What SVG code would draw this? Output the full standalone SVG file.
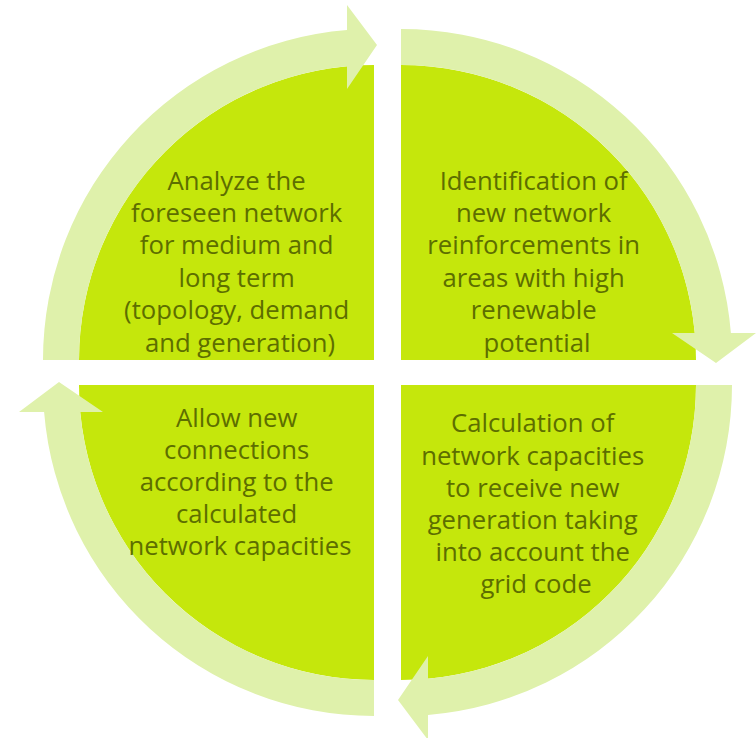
<svg xmlns="http://www.w3.org/2000/svg" width="756" height="738" viewBox="0 0 756 738">
  <style>
    .seg { fill: #c5e70c; }
    .arc { fill: #dff1ab; }
    .lbl { font-family: "Open Sans", "Noto Sans", "Liberation Sans", sans-serif; font-size: 25.7px; fill: #5d6e00; text-anchor: middle; }
  </style>
  <defs>
    <!-- quarter-turn circular arrow, drawn around its own corner at (0,0) -->
    <path id="turn" d="M -331 0 A 331 331 0 0 1 -27 -329.9 L -27 -355 L 3 -315 L -27 -271 L -27 -293.8 A 295 295 0 0 0 -295 0 Z"/>
  </defs>
  <rect width="756" height="738" fill="#ffffff"/>

  <!-- segments -->
  <g id="analyze">
    <path class="seg" d="M 374 360 L 79 360 A 295 295 0 0 1 374 65 Z"/>
    <text class="lbl" x="240">
      <tspan x="240" y="189.5">Analyze the</tspan>
      <tspan x="240" y="222">foreseen network</tspan>
      <tspan x="240" y="254">for medium and</tspan>
      <tspan x="240" y="286.5">long term</tspan>
      <tspan x="240" y="319">(topology, demand</tspan>
      <tspan x="240" y="351.5">and generation)</tspan>
    </text>
  </g>
  <g id="identify">
    <path class="seg" d="M 401 360 L 401 65 A 295 295 0 0 1 696 360 Z"/>
    <text class="lbl" x="537">
      <tspan x="537" y="189.5">Identification of</tspan>
      <tspan x="537" y="222">new network</tspan>
      <tspan x="537" y="254">reinforcements in</tspan>
      <tspan x="537" y="286.5">areas with high</tspan>
      <tspan x="537" y="319">renewable</tspan>
      <tspan x="537" y="351.5">potential</tspan>
    </text>
  </g>
  <g id="calculate">
    <path class="seg" d="M 401 385 L 696 385 A 295 295 0 0 1 401 680 Z"/>
    <text class="lbl" x="536">
      <tspan x="536" y="432.3">Calculation of</tspan>
      <tspan x="536" y="464.5">network capacities</tspan>
      <tspan x="536" y="496.7">to receive new</tspan>
      <tspan x="536" y="528.9">generation taking</tspan>
      <tspan x="536" y="561.1">into account the</tspan>
      <tspan x="536" y="593.3">grid code</tspan>
    </text>
  </g>
  <g id="allow">
    <path class="seg" d="M 374 385 L 374 680 A 295 295 0 0 1 79 385 Z"/>
  </g>

  <!-- connectors: circular arrows around the segments -->
  <g id="connectors">
    <use href="#turn" class="arc" transform="translate(374 360)"/>
    <use href="#turn" class="arc" transform="translate(401 360) rotate(90)"/>
    <use href="#turn" class="arc" transform="translate(401 385) rotate(180)"/>
    <use href="#turn" class="arc" transform="translate(374 385) rotate(270)"/>
  </g>

  <!-- text of the last segment runs over its arrow -->
  <g id="allow-label">
    <text class="lbl" x="240">
      <tspan x="240" y="426.7">Allow new</tspan>
      <tspan x="240" y="458.8">connections</tspan>
      <tspan x="240" y="490.9">according to the</tspan>
      <tspan x="240" y="523">calculated</tspan>
      <tspan x="240" y="555">network capacities</tspan>
    </text>
  </g>
</svg>
